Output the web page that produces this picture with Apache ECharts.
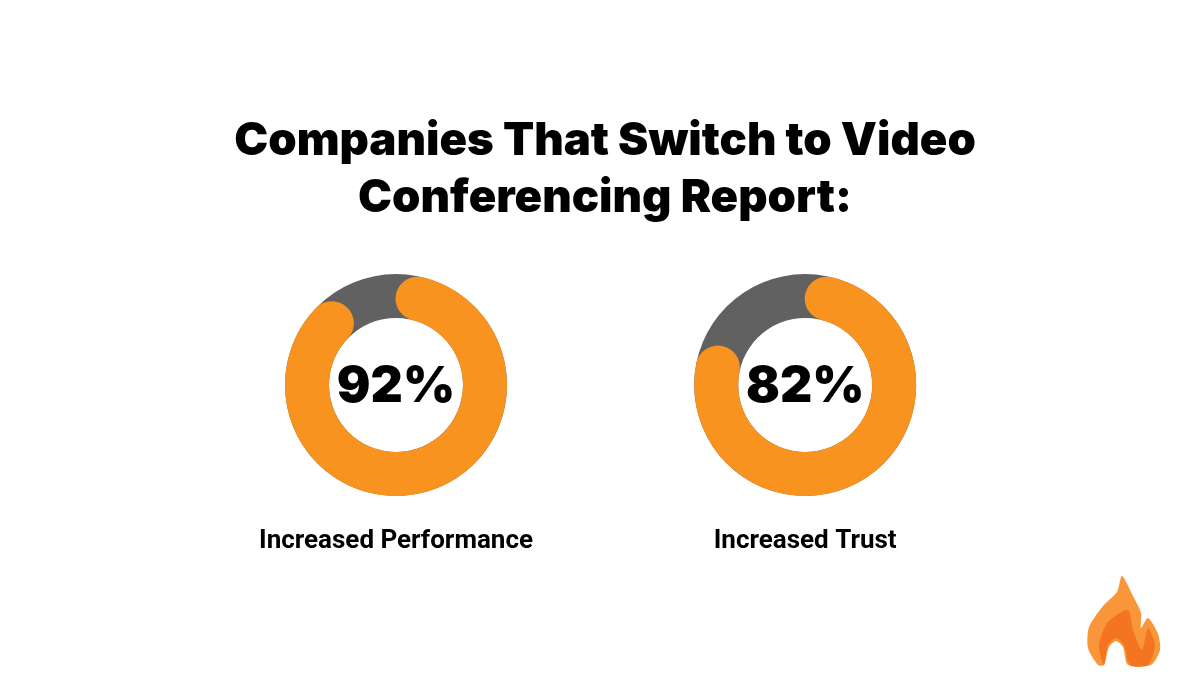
<!DOCTYPE html>
<html>
<head>
<meta charset="utf-8">
<script src="https://cdn.jsdelivr.net/npm/echarts@6/dist/echarts.min.js"></script>
<style>html,body{margin:0;padding:0;background:#fff;}#main{width:1200px;height:700px;}</style>
</head>
<body>
<div id="main"></div>
<script>
const titleLines = ['Companies That Switch to Video', 'Conferencing Report:'];
const categories = ['Increased Performance', 'Increased Trust'];
const values = [92, 82];
const centersX = ['33%', '67.1%'];

const ORANGE = '#F7931E';
const GRAY = '#616161';

const chart = echarts.init(document.getElementById('main'));
const series = [];
categories.forEach((name, i) => {
  series.push({
    type: 'gauge',
    center: [centersX[i], 385],
    radius: 111,
    startAngle: 90,
    endAngle: -270,
    min: 0, max: 100,
    silent: true,
    axisLine: { lineStyle: { width: 44, color: [[1, GRAY]] } },
    splitLine: { show: false }, axisTick: { show: false }, axisLabel: { show: false },
    pointer: { show: false }, anchor: { show: false },
    title: { show: false }, detail: { show: false },
    data: [{ value: 0 }]
  });
  series.push({
    type: 'gauge',
    center: [centersX[i], 385],
    radius: 111,
    startAngle: 76,
    endAngle: -250,
    min: 0, max: 100,
    silent: true,
    axisLine: { show: false, lineStyle: { width: 44, color: [[1, 'rgba(0,0,0,0)']] } },
    progress: { show: true, width: 44, roundCap: true, itemStyle: { color: ORANGE } },
    splitLine: { show: false }, axisTick: { show: false }, axisLabel: { show: false },
    pointer: { show: false }, anchor: { show: false },
    title: {
      show: true, offsetCenter: [0, 156],
      fontFamily: 'Roboto', fontWeight: 'bold', fontSize: 26, color: '#000'
    },
    detail: {
      show: true, offsetCenter: [0, 2], formatter: '{value}%',
      fontFamily: 'Inter', fontWeight: 900, fontSize: 50, color: '#000'
    },
    data: [{ value: values[i], name: name }]
  });
});

chart.setOption({
  backgroundColor: '#ffffff',
  animation: false,
  title: {
    text: titleLines.join('\n'),
    left: 600, top: 108,
    textAlign: 'center',
    textStyle: {
      fontFamily: 'Inter', fontWeight: 900, fontSize: 45.5, color: '#000',
      lineHeight: 57
    }
  },
  graphic: [
    {
      type: 'polygon', silent: true,
      shape: {
        smooth: 0.25,
        points: [[1122,576],[1133,596],[1141,613],[1141,628],[1148,618],[1158,634],[1160,650],[1151,665],[1128,665],[1123,647],[1116,641],[1109,647],[1104,665],[1098,665],[1088,648],[1089,627],[1103,606],[1117,592]]
      },
      style: { fill: '#F9963A' }
    },
    {
      type: 'polygon', silent: true,
      shape: {
        smooth: 0.25,
        points: [[1128,610],[1133,630],[1142,650],[1148,628],[1155,645],[1148,665],[1130,665],[1124,645],[1116,638],[1108,645],[1104,665],[1099,645],[1108,622]]
      },
      style: { fill: '#F37521' }
    }
  ],
  series: series
});
</script>
</body>
</html>
